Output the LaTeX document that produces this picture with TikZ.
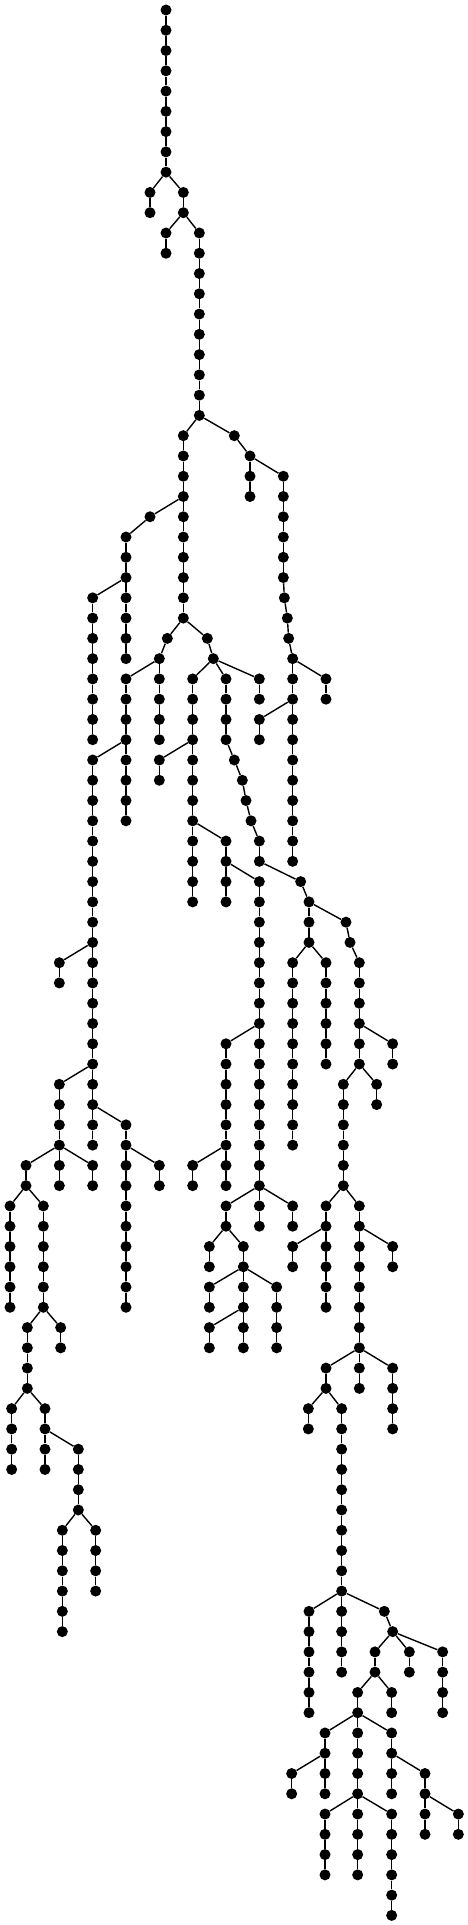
\documentclass[tikz,border=0pt]{standalone}
\tikzset{v/.style={circle,fill=black,inner sep=0pt,minimum size=11pt},
  e/.style={line width=1.4pt,black}}
\newcommand\nd[2]{\node[v] (n#1r#2) at ({#1/3},{-10-20.27*#2}) {};}
\newcommand\chn[3]{%
  \foreach \r in {#2,...,#3}{\node[v] (n#1r\r) at ({#1/3},{-10-20.27*\r}) {};}%
  \pgfmathtruncatemacro\lastr{#3-1}%
  \foreach \r in {#2,...,\lastr}{\pgfmathtruncatemacro\nxt{\r+1}\draw[e] (n#1r\r) -- (n#1r\nxt);}%
}
\newcommand\E[2]{\draw[e] (#1) -- (#2);}
\begin{document}
\begin{tikzpicture}[x=1pt,y=1pt]
\useasboundingbox (0,0) rectangle (468,-1925);
% nodes and vertical chains
\chn{498}{0}{8}
\chn{450}{9}{10}
\chn{550}{9}{10}
\chn{498}{11}{12}
\chn{598}{11}{20}
\chn{550}{21}{30}
\nd{703}{21}
\chn{750}{22}{24}
\chn{850}{23}{28}
\nd{853}{29} \nd{862}{30} \nd{866}{31} \nd{878}{32}
\nd{450}{25}
\chn{378}{26}{32}
\chn{278}{29}{36}
\nd{502}{31} \nd{622}{31} \nd{640}{32}
\chn{478}{32}{36}
\chn{378}{33}{40}
\chn{278}{37}{56}
\chn{578}{33}{44}
\chn{478}{37}{38}
\chn{678}{33}{36}
\nd{703}{37} \nd{727}{38} \nd{738}{39} \nd{753}{40}
\chn{778}{41}{42}
\chn{778}{33}{34}
\chn{878}{33}{42}
\chn{978}{33}{34}
\chn{778}{35}{36}
\chn{678}{41}{44}
\chn{778}{43}{60}
\nd{902}{43}
\chn{927}{44}{46}
\nd{1038}{45} \nd{1050}{46}
\chn{178}{47}{48}
\chn{178}{53}{58}
\chn{378}{55}{64}
\chn{478}{57}{58}
\chn{78}{57}{58}
\chn{278}{57}{58}
\chn{30}{59}{64}
\chn{130}{59}{64}
\chn{82}{65}{68}
\chn{182}{65}{66}
\chn{35}{69}{72}
\chn{135}{69}{72}
\chn{235}{71}{74}
\chn{187}{75}{80}
\chn{287}{75}{78}
\chn{678}{51}{58}
\chn{578}{57}{58}
\chn{878}{47}{56}
\chn{978}{47}{52}
\chn{1078}{47}{52}
\chn{1178}{51}{52}
\chn{1130}{53}{54}
\chn{1030}{53}{58}
\chn{678}{59}{60}
\chn{878}{59}{60}
\chn{628}{61}{62}
\chn{730}{61}{66}
\chn{628}{63}{64}
\chn{628}{65}{66}
\chn{830}{63}{66}
\chn{978}{59}{64}
\chn{878}{61}{62}
\chn{1078}{59}{68}
\chn{1178}{61}{62}
\chn{978}{67}{68}
\chn{1178}{67}{70}
\chn{925}{69}{70}
\chn{1025}{69}{82}
\chn{927}{79}{84}
\nd{1153}{79} \nd{1178}{80}
\chn{1125}{81}{82}
\chn{1228}{81}{82}
\chn{1328}{81}{84}
\chn{1073}{83}{92}
\chn{1175}{83}{84}
\chn{975}{85}{88}
\chn{875}{87}{88}
\chn{1175}{85}{88}
\chn{1275}{87}{90}
\chn{975}{89}{92}
\chn{1175}{89}{94}
\chn{1375}{89}{90}
% branch edges
\E{n498r8}{n450r9}
\E{n498r8}{n550r9}
\E{n550r10}{n498r11}
\E{n550r10}{n598r11}
\E{n598r20}{n550r21}
\E{n598r20}{n703r21}
\E{n703r21}{n750r22}
\E{n750r22}{n850r23}
\E{n850r28}{n853r29}
\E{n853r29}{n862r30}
\E{n862r30}{n866r31}
\E{n866r31}{n878r32}
\E{n550r24}{n450r25}
\E{n450r25}{n378r26}
\E{n378r28}{n278r29}
\E{n550r30}{n502r31}
\E{n550r30}{n622r31}
\E{n502r31}{n478r32}
\E{n622r31}{n640r32}
\E{n478r32}{n378r33}
\E{n378r36}{n278r37}
\E{n640r32}{n578r33}
\E{n640r32}{n678r33}
\E{n640r32}{n778r33}
\E{n578r36}{n478r37}
\E{n578r40}{n678r41}
\E{n678r36}{n703r37}
\E{n703r37}{n727r38}
\E{n727r38}{n738r39}
\E{n738r39}{n753r40}
\E{n753r40}{n778r41}
\E{n778r42}{n902r43}
\E{n878r32}{n878r33}
\E{n878r32}{n978r33}
\E{n878r34}{n778r35}
\E{n678r42}{n778r43}
\E{n902r43}{n927r44}
\E{n927r44}{n1038r45}
\E{n1038r45}{n1050r46}
\E{n1050r46}{n1078r47}
\E{n927r46}{n878r47}
\E{n927r46}{n978r47}
\E{n278r46}{n178r47}
\E{n278r52}{n178r53}
\E{n278r54}{n378r55}
\E{n178r56}{n78r57}
\E{n178r56}{n278r57}
\E{n378r56}{n478r57}
\E{n78r58}{n30r59}
\E{n78r58}{n130r59}
\E{n130r64}{n82r65}
\E{n130r64}{n182r65}
\E{n82r68}{n35r69}
\E{n82r68}{n135r69}
\E{n135r70}{n235r71}
\E{n235r74}{n187r75}
\E{n235r74}{n287r75}
\E{n778r50}{n678r51}
\E{n678r56}{n578r57}
\E{n778r58}{n678r59}
\E{n778r58}{n878r59}
\E{n678r60}{n628r61}
\E{n678r60}{n730r61}
\E{n730r62}{n628r63}
\E{n730r62}{n830r63}
\E{n730r64}{n628r65}
\E{n1078r50}{n1178r51}
\E{n1078r52}{n1030r53}
\E{n1078r52}{n1130r53}
\E{n1030r58}{n978r59}
\E{n1030r58}{n1078r59}
\E{n978r60}{n878r61}
\E{n1078r60}{n1178r61}
\E{n1078r66}{n978r67}
\E{n1078r66}{n1178r67}
\E{n978r68}{n925r69}
\E{n978r68}{n1025r69}
\E{n1025r78}{n927r79}
\E{n1025r78}{n1153r79}
\E{n1153r79}{n1178r80}
\E{n1178r80}{n1125r81}
\E{n1178r80}{n1228r81}
\E{n1178r80}{n1328r81}
\E{n1125r82}{n1073r83}
\E{n1125r82}{n1175r83}
\E{n1073r84}{n975r85}
\E{n1073r84}{n1175r85}
\E{n975r86}{n875r87}
\E{n1175r86}{n1275r87}
\E{n1073r88}{n975r89}
\E{n1073r88}{n1175r89}
\E{n1275r88}{n1375r89}
\end{tikzpicture}
\end{document}
